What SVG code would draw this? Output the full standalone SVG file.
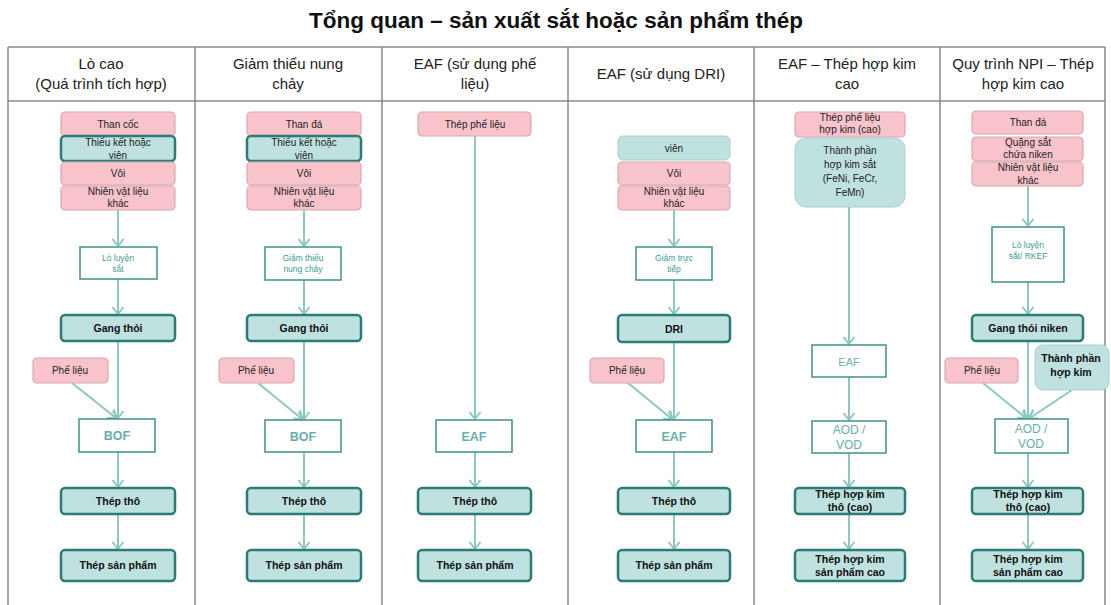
<svg xmlns="http://www.w3.org/2000/svg" width="1111" height="605" viewBox="0 0 1111 605">
<defs>
<marker id="ah" markerUnits="userSpaceOnUse" markerWidth="14" markerHeight="14" refX="0" refY="0" viewBox="-8 -7 10 14" orient="auto">
<path d="M-7,-5.5 L0,0 L-7,5.5" fill="none" stroke="#8dc7c2" stroke-width="2"/>
</marker>
<style>
.grid{stroke:#8a8a8a;stroke-width:1.5;fill:none}
.title{font-family:"Liberation Sans Narrow","Liberation Sans",sans-serif;font-weight:bold;font-size:22.5px;fill:#111;text-anchor:middle}
.hd{font-family:"Liberation Sans Narrow","Liberation Sans",sans-serif;font-size:15px;fill:#222;text-anchor:middle}
.pink{fill:#f9c3cb;stroke:#d6a9b0;stroke-width:1.2}
.tb{fill:#bfe1df;stroke:#2b7c74;stroke-width:2.5}
.tl{fill:#bfe1df;stroke:#a9d0cd;stroke-width:1}
.pr{fill:#ffffff;stroke:#3f9189;stroke-width:1.5}
.t{font-family:"Liberation Sans",Arial,sans-serif;font-size:10px;fill:#222;text-anchor:middle}
.b{font-family:"Liberation Sans",Arial,sans-serif;font-size:10.5px;font-weight:bold;fill:#111;text-anchor:middle}
.p{font-family:"Liberation Sans",Arial,sans-serif;font-size:8.5px;fill:#3d9b93;text-anchor:middle}
.pb{font-family:"Liberation Sans",Arial,sans-serif;font-size:12.5px;font-weight:bold;fill:#6aaea8;text-anchor:middle}
.c{stroke:#8dc7c2;stroke-width:2;fill:none}
.a{marker-end:url(#ah)}
</style>
</defs>
<rect width="1111" height="605" fill="#ffffff"/>
<text class="title" x="556" y="28">Tổng quan – sản xuất sắt hoặc sản phẩm thép</text>
<g id="table">
<path class="grid" d="M8,47 H1105 M8,101 H1105 M8,47 V605 M195,47 V605 M382,47 V605 M568,47 V605 M754,47 V605 M940,47 V605 M1105,47 V605"/>
<text class="hd" x="101" y="69">Lò cao</text>
<text class="hd" x="101" y="89">(Quá trình tích hợp)</text>
<text class="hd" x="288" y="69">Giảm thiểu nung</text>
<text class="hd" x="288" y="89">chảy</text>
<text class="hd" x="475" y="69">EAF (sử dụng phế</text>
<text class="hd" x="475" y="89">liệu)</text>
<text class="hd" x="661" y="79">EAF (sử dụng DRI)</text>
<text class="hd" x="847" y="69">EAF – Thép hợp kim</text>
<text class="hd" x="847" y="89">cao</text>
<text class="hd" x="1023" y="69">Quy trình NPI – Thép</text>
<text class="hd" x="1023" y="89">hợp kim cao</text>
</g>
<g id="connectors">
<line class="c a" x1="118" y1="210" x2="118" y2="246"/>
<line class="c a" x1="118" y1="279" x2="118" y2="314"/>
<line class="c a" x1="118" y1="341" x2="118" y2="418"/>
<line class="c a" x1="72" y1="383" x2="116" y2="418"/>
<line class="c a" x1="118" y1="452" x2="118" y2="487"/>
<line class="c a" x1="118" y1="514" x2="118" y2="549"/>
<line class="c a" x1="304" y1="210" x2="304" y2="246"/>
<line class="c a" x1="304" y1="280" x2="304" y2="314"/>
<line class="c a" x1="304" y1="341" x2="304" y2="419"/>
<line class="c a" x1="258" y1="383" x2="302" y2="419"/>
<line class="c a" x1="304" y1="452" x2="304" y2="487"/>
<line class="c a" x1="304" y1="514" x2="304" y2="549"/>
<line class="c a" x1="475" y1="136" x2="475" y2="419"/>
<line class="c a" x1="475" y1="452" x2="475" y2="487"/>
<line class="c a" x1="475" y1="514" x2="475" y2="549"/>
<line class="c a" x1="674" y1="210" x2="674" y2="246"/>
<line class="c a" x1="674" y1="280" x2="674" y2="314"/>
<line class="c a" x1="674" y1="342" x2="674" y2="419"/>
<line class="c a" x1="628" y1="383" x2="672" y2="419"/>
<line class="c a" x1="674" y1="452" x2="674" y2="487"/>
<line class="c a" x1="674" y1="514" x2="674" y2="549"/>
<line class="c a" x1="849" y1="207" x2="849" y2="344"/>
<line class="c a" x1="849" y1="377" x2="849" y2="420"/>
<line class="c a" x1="849" y1="453" x2="849" y2="487"/>
<line class="c a" x1="849" y1="514" x2="849" y2="549"/>
<line class="c a" x1="1028" y1="186" x2="1028" y2="226"/>
<line class="c a" x1="1028" y1="282" x2="1028" y2="314"/>
<line class="c a" x1="1028" y1="341" x2="1028" y2="418"/>
<line class="c a" x1="983" y1="383" x2="1026" y2="418"/>
<line class="c a" x1="1072" y1="390" x2="1030" y2="418"/>
<line class="c a" x1="1028" y1="453" x2="1028" y2="487"/>
<line class="c a" x1="1028" y1="514" x2="1028" y2="549"/>
</g>
<g id="col1">
<g id="c1-than"><rect class="pink" x="61" y="112" width="114" height="24" rx="4"/><text class="t" x="118" y="128">Than cốc</text></g>
<g id="c1-thieu"><rect class="tb" x="61" y="136" width="114" height="25" rx="4"/><text class="t" x="118" y="146">Thiếu kết hoặc</text><text class="t" x="118" y="159">viên</text></g>
<g id="c1-voi"><rect class="pink" x="61" y="162" width="114" height="23" rx="4"/><text class="t" x="118" y="177">Vôi</text></g>
<g id="c1-nhien"><rect class="pink" x="61" y="186" width="114" height="24" rx="4"/><text class="t" x="118" y="195">Nhiên vật liệu</text><text class="t" x="118" y="207">khác</text></g>
<g id="c1-lo"><rect class="pr" x="80" y="247" width="77" height="32"/><text class="p" x="118" y="261">Lò luyện</text><text class="p" x="118" y="272">sắt</text></g>
<g id="c1-gang"><rect class="tb" x="61" y="315" width="114" height="26" rx="4"/><text class="b" x="118" y="332">Gang thỏi</text></g>
<g id="c1-phe"><rect class="pink" x="33" y="358" width="75" height="25" rx="4"/><text class="t" x="70" y="374">Phế liệu</text></g>
<g id="c1-bof"><rect class="pr" x="79" y="419" width="76" height="33"/><text class="pb" x="117" y="440">BOF</text></g>
<g id="c1-tho"><rect class="tb" x="61" y="488" width="114" height="26" rx="4"/><text class="b" x="118" y="505">Thép thô</text></g>
<g id="c1-sp"><rect class="tb" x="61" y="550" width="114" height="31" rx="4"/><text class="b" x="118" y="569">Thép sản phẩm</text></g>
</g>
<g id="col2">
<g id="c2-than"><rect class="pink" x="247" y="112" width="114" height="24" rx="4"/><text class="t" x="304" y="128">Than đá</text></g>
<g id="c2-thieu"><rect class="tb" x="247" y="136" width="114" height="25" rx="4"/><text class="t" x="304" y="146">Thiếu kết hoặc</text><text class="t" x="304" y="159">viên</text></g>
<g id="c2-voi"><rect class="pink" x="247" y="162" width="114" height="23" rx="4"/><text class="t" x="304" y="177">Vôi</text></g>
<g id="c2-nhien"><rect class="pink" x="247" y="186" width="114" height="24" rx="4"/><text class="t" x="304" y="195">Nhiên vật liệu</text><text class="t" x="304" y="207">khác</text></g>
<g id="c2-giam"><rect class="pr" x="265" y="247" width="76" height="33"/><text class="p" x="303" y="261">Giảm thiểu</text><text class="p" x="303" y="272">nung chảy</text></g>
<g id="c2-gang"><rect class="tb" x="247" y="315" width="114" height="26" rx="4"/><text class="b" x="304" y="332">Gang thỏi</text></g>
<g id="c2-phe"><rect class="pink" x="219" y="358" width="75" height="25" rx="4"/><text class="t" x="256" y="374">Phế liệu</text></g>
<g id="c2-bof"><rect class="pr" x="265" y="420" width="76" height="32"/><text class="pb" x="303" y="441">BOF</text></g>
<g id="c2-tho"><rect class="tb" x="247" y="488" width="114" height="26" rx="4"/><text class="b" x="304" y="505">Thép thô</text></g>
<g id="c2-sp"><rect class="tb" x="247" y="550" width="114" height="31" rx="4"/><text class="b" x="304" y="569">Thép sản phẩm</text></g>
</g>
<g id="col3">
<g id="c3-phe"><rect class="pink" x="418" y="112" width="113" height="24" rx="4"/><text class="t" x="475" y="128">Thép phế liệu</text></g>
<g id="c3-eaf"><rect class="pr" x="436" y="420" width="76" height="32"/><text class="pb" x="474" y="441">EAF</text></g>
<g id="c3-tho"><rect class="tb" x="418" y="488" width="113" height="26" rx="4"/><text class="b" x="475" y="505">Thép thô</text></g>
<g id="c3-sp"><rect class="tb" x="418" y="550" width="113" height="31" rx="4"/><text class="b" x="475" y="569">Thép sản phẩm</text></g>
</g>
<g id="col4">
<g id="c4-vien"><rect class="tl" x="618" y="136" width="112" height="24" rx="5"/><text class="t" x="674" y="152">viên</text></g>
<g id="c4-voi"><rect class="pink" x="618" y="162" width="112" height="23" rx="4"/><text class="t" x="674" y="177">Vôi</text></g>
<g id="c4-nhien"><rect class="pink" x="618" y="186" width="112" height="24" rx="4"/><text class="t" x="674" y="195">Nhiên vật liệu</text><text class="t" x="674" y="207">khác</text></g>
<g id="c4-giam"><rect class="pr" x="636" y="247" width="76" height="33"/><text class="p" x="674" y="261">Giảm trực</text><text class="p" x="674" y="272">tiếp</text></g>
<g id="c4-dri"><rect class="tb" x="618" y="315" width="112" height="27" rx="4"/><text class="b" x="674" y="333">DRI</text></g>
<g id="c4-phe"><rect class="pink" x="590" y="358" width="74" height="25" rx="4"/><text class="t" x="627" y="374">Phế liệu</text></g>
<g id="c4-eaf"><rect class="pr" x="636" y="420" width="76" height="32"/><text class="pb" x="674" y="441">EAF</text></g>
<g id="c4-tho"><rect class="tb" x="618" y="488" width="112" height="26" rx="4"/><text class="b" x="674" y="505">Thép thô</text></g>
<g id="c4-sp"><rect class="tb" x="618" y="550" width="112" height="31" rx="4"/><text class="b" x="674" y="569">Thép sản phẩm</text></g>
</g>
<g id="col5">
<g id="c5-phe"><rect class="pink" x="795" y="112" width="110" height="25" rx="4"/><text class="t" x="850" y="121">Thép phế liệu</text><text class="t" x="850" y="133">hợp kim (cao)</text></g>
<g id="c5-tp"><rect class="tl" x="795" y="138" width="110" height="69" rx="11"/><text class="t" x="850" y="154">Thành phần</text><text class="t" x="850" y="168">hợp kim sắt</text><text class="t" x="850" y="182">(FeNi, FeCr,</text><text class="t" x="850" y="196">FeMn)</text></g>
<g id="c5-eaf"><rect class="pr" x="812" y="345" width="74" height="32"/><text class="pb" x="849" y="366" style="font-weight:normal;font-size:11px">EAF</text></g>
<g id="c5-aod"><rect class="pr" x="812" y="421" width="74" height="32"/><text class="pb" x="849" y="434" style="font-weight:normal;font-size:12px">AOD /</text><text class="pb" x="849" y="449" style="font-weight:normal;font-size:12px">VOD</text></g>
<g id="c5-tho"><rect class="tb" x="795" y="488" width="110" height="26" rx="4"/><text class="b" x="850" y="498">Thép hợp kim</text><text class="b" x="850" y="511">thô (cao)</text></g>
<g id="c5-sp"><rect class="tb" x="795" y="550" width="110" height="31" rx="4"/><text class="b" x="850" y="563">Thép hợp kim</text><text class="b" x="850" y="576">sản phẩm cao</text></g>
</g>
<g id="col6">
<g id="c6-than"><rect class="pink" x="972" y="111" width="111" height="23" rx="4"/><text class="t" x="1028" y="126">Than đá</text></g>
<g id="c6-quang"><rect class="pink" x="972" y="137" width="111" height="24" rx="4"/><text class="t" x="1028" y="146">Quặng sắt</text><text class="t" x="1028" y="158">chứa niken</text></g>
<g id="c6-nhien"><rect class="pink" x="972" y="162" width="111" height="24" rx="4"/><text class="t" x="1028" y="171">Nhiên vật liệu</text><text class="t" x="1028" y="184">khác</text></g>
<g id="c6-lo"><rect class="pr" x="992" y="227" width="72" height="55"/><text class="p" x="1028" y="248">Lò luyện</text><text class="p" x="1028" y="259">sắt/ RKEF</text></g>
<g id="c6-gang"><rect class="tb" x="972" y="315" width="111" height="26" rx="4"/><text class="b" x="1028" y="332">Gang thỏi niken</text></g>
<g id="c6-phe"><rect class="pink" x="945" y="358" width="73" height="25" rx="4"/><text class="t" x="982" y="374">Phế liệu</text></g>
<g id="c6-tp"><rect class="tl" x="1035" y="345" width="74" height="45" rx="8"/><text class="b" x="1071" y="362">Thành phần</text><text class="b" x="1071" y="376">hợp kim</text></g>
<g id="c6-aod"><rect class="pr" x="995" y="419" width="73" height="34"/><text class="pb" x="1031" y="433" style="font-weight:normal;font-size:12px">AOD /</text><text class="pb" x="1031" y="448" style="font-weight:normal;font-size:12px">VOD</text></g>
<g id="c6-tho"><rect class="tb" x="972" y="488" width="111" height="26" rx="4"/><text class="b" x="1028" y="498">Thép hợp kim</text><text class="b" x="1028" y="511">thô (cao)</text></g>
<g id="c6-sp"><rect class="tb" x="972" y="550" width="111" height="31" rx="4"/><text class="b" x="1028" y="563">Thép hợp kim</text><text class="b" x="1028" y="576">sản phẩm cao</text></g>
</g>
</svg>
